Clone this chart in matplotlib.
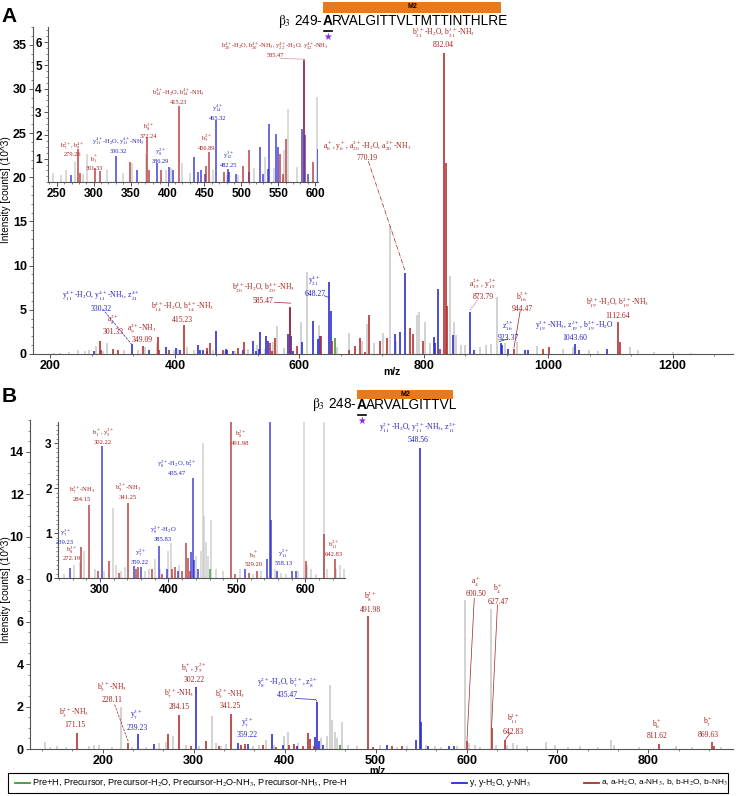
import numpy as np
import matplotlib.pyplot as plt
from matplotlib.ticker import MultipleLocator
from matplotlib.patches import Rectangle
from matplotlib.lines import Line2D

plt.rcParams['mathtext.fontset'] = 'stix'

W, H = 736, 796

def fx(x):
    return x / W

def fy(y):
    return 1 - y / H

def box(l, t, r, b):
    return [fx(l), fy(b), (r - l) / W, (b - t) / H]

# ---------------- panel A peaks (m/z, intensity x10^3) ----------------
a_gray_mz = [205, 215, 230, 245, 255, 262, 274, 285, 291.5, 318, 340, 351.6, 371, 398, 405,
             420, 430, 462, 480, 496, 517, 532, 545, 558.5, 564, 576, 602, 613, 632, 660,
             680, 700, 708, 720, 735, 746, 756, 789, 792, 802, 810, 842, 848, 852, 860, 866,
             890, 900, 908, 917.5, 930, 950, 982, 1024, 1040, 1065, 1080, 1132, 1145, 1170,
             1200, 1230]
a_gray_int = [0.1, 0.15, 0.2, 0.4, 0.3, 0.5, 0.86, 0.35, 1.2, 0.5, 0.4, 0.8, 1.2, 0.5, 0.6,
              0.8, 0.4, 0.5, 0.3, 0.3, 0.6, 1.06, 0.6, 1.36, 3.14, 0.64, 3.64, 9.3, 3.3, 0.8,
              2.4, 1.5, 3.35, 1.2, 2.4, 14.5, 1.5, 4.4, 4.8, 3.6, 1.2, 8.8, 3.6, 2.1, 1.0, 1.0,
              0.8, 1.0, 1.1, 6.4, 1.2, 1.35, 0.95, 0.6, 0.8, 0.4, 0.3, 0.8, 0.4, 0.2,
              0.2, 0.15]

a_blue_mz = [269.4, 330.32, 358.4, 386.29, 402, 408, 436.5, 441, 445, 451, 465.32, 482.25,
             484, 493, 510, 525.5, 530, 536, 537.6, 547, 550, 582.4, 585.47, 587, 590, 604,
             622.5, 630, 634, 648.27, 650.5, 754, 762, 770.19, 816, 818, 822.3, 847, 873.79,
             880, 923.37, 926, 935, 962, 968, 1043.6, 1050, 1095]
a_blue_int = [0.3, 1.1, 0.5, 0.8, 0.64, 0.5, 1.07, 0.45, 0.5, 0.35, 2.64, 0.57,
              0.45, 0.33, 0.45, 1.5, 0.35, 0.57, 2.47, 2.07, 1.5, 2.29, 5.24, 2.0, 0.35, 1.4,
              3.7, 1.7, 2.0, 8.2, 4.9, 2.3, 2.5, 9.2, 1.9, 1.3, 7.4, 2.1, 4.8,
              0.4, 1.3, 1.0, 0.6, 0.4, 0.5, 1.15, 0.4, 0.6]

a_red_mz = [279.26, 281, 301.33, 308, 349.09, 372.24, 375, 391, 415.23, 451.8, 456.89, 476.7,
            502, 511, 552.6, 556.6, 560.7, 585.47, 597, 635, 652, 680, 690, 698, 706, 712.7,
            730, 740.6, 778, 783, 798, 826, 832.04, 836.5, 838, 944.47, 992, 1002, 1112.64,
            1115]
a_red_int = [1.43, 0.4, 0.6, 0.47, 0.85, 1.93, 0.5, 0.5, 3.24, 0.67, 1.29, 0.43,
             0.7, 1.39, 1.21, 0.35, 1.86, 5.27, 0.86, 2.0, 1.5, 0.5, 0.9, 1.8, 0.2, 4.4,
             1.5, 1.8, 2.9, 2.3, 1.46, 0.6, 34.1, 21.6, 5.4, 0.6, 0.6, 0.77, 3.65,
             1.35]

a_green_mz = [657.5]
a_green_int = [1.8]

# labels: (m/z, intensity, ion names, m/z text, colour key)
a_main_labels = [
    (281, 6.0, r"y$_{11}^{4+}$-H$_2$O, y$_{11}^{4+}$-NH$_3$, z$_{21}^{4+}$", "330.32", 'b'),
    (301, 3.3, r"a$_8^{2+}$", "301.33", 'r'),
    (347, 2.4, r"a$_9^{2+}$-NH$_3$", "349.09", 'r'),
    (412, 4.75, r"b$_{14}^{4+}$-H$_2$O, b$_{14}^{4+}$-NH$_3$", "415.23", 'r'),
    (542, 6.9, r"b$_{20}^{4+}$-H$_2$O, b$_{20}^{4+}$-NH$_3$", "585.47", 'r'),
    (625, 7.7, r"y$_{21}^{4+}$", "648.27", 'b'),
    (709, 23.1, r"a$_6^+$, y$_6^+$, a$_{20}^{2+}$-H$_2$O, a$_{20}^{2+}$-NH$_3$", "770.19", 'r'),
    (831, 35.8, r"b$_{21}^{3+}$-H$_2$O, b$_{21}^{3+}$-NH$_3$", "832.04", 'r'),
    (895, 7.4, r"a$_{15}^{2+}$, y$_{15}^{2+}$", "873.79", 'r'),
    (958, 6.0, r"b$_{16}^{2+}$", "944.47", 'r'),
    (936, 2.7, r"z$_{16}^{2+}$", "923.37", 'b'),
    (1043, 2.7, r"y$_{19}^{2+}$-NH$_3$, z$_{19}^{2+}$, b$_{19}^{2+}$-H$_2$O", "1043.60", 'b'),
    (1112, 5.2, r"b$_{19}^{2+}$-H$_2$O, b$_{19}^{2+}$-NH$_3$", "1112.64", 'r'),
]
a_inset_labels = [
    (271, 1.42, r"b$_7^{2+}$, b$_9^{4+}$", "279.26", 'r'),
    (301, 0.85, r"b$_1^+$", "301.33", 'r'),
    (334, 1.6, r"y$_{11}^{4+}$-H$_2$O, y$_{11}^{4+}$-NH$_3$", "330.32", 'b'),
    (374, 2.23, r"b$_8^{3+}$", "372.24", 'r'),
    (390, 1.16, r"y$_8^{2+}$", "386.29", 'b'),
    (415, 3.69, r"b$_{14}^{4+}$-H$_2$O, b$_{14}^{4+}$-NH$_3$", "415.23", 'r'),
    (468, 3.0, r"y$_{14}^{4+}$", "465.32", 'b'),
    (453, 1.72, r"b$_5^{2+}$", "456.89", 'r'),
    (483, 0.99, r"y$_{12}^{3+}$", "482.25", 'b'),
    (546, 5.7, r"b$_{20}^{4+}$-H$_2$O, b$_{20}^{4+}$-NH$_3$, y$_{22}^{4+}$-H$_2$O, y$_{22}^{4+}$-NH$_3$", "585.47", 'r'),
]

# ---------------- panel B peaks ----------------
b_gray_mz = [136, 142, 150, 160, 185, 190, 196, 210, 220.6, 232, 248, 262, 270, 277, 292, 306,
             319.6, 324, 330, 336, 365, 372, 380, 388, 399, 404, 415, 440, 447, 450, 452, 455,
             458, 462.6, 470, 480, 505, 523, 535, 555, 565, 572, 590, 598, 603, 609, 615, 627,
             632, 645, 651, 656, 667, 687, 697, 712, 725, 745, 759, 762, 790, 830, 848, 880]
b_gray_int = [0.34, 0.1, 0.15, 0.1, 0.15, 0.2, 0.2, 0.1, 2.0, 0.1, 0.1, 0.3, 0.35, 0.6, 0.2, 0.15,
              1.55, 0.3, 0.15, 0.25, 0.15, 0.2, 0.42, 0.2, 0.6, 0.78, 0.3, 0.5, 0.6, 3.0, 1.37, 0.8,
              0.5, 1.28, 0.2, 0.15, 0.2, 0.1, 0.15, 0.2, 0.12, 0.1, 0.15, 7.0, 0.3, 0.2, 0.1, 6.6,
              0.2, 0.2, 0.3, 0.2, 0.15, 0.34, 0.2, 0.1, 0.12, 0.1, 0.42, 0.2, 0.1, 0.12, 0.1, 0.1]

b_blue_mz = [239.23, 256, 302.22, 348.9, 359.22, 385.83, 398, 414, 433, 435.47, 437.5, 442.5,
             512, 544, 548.56, 549.5, 558.13, 581, 586]
b_blue_int = [0.7, 0.22, 2.93, 0.27, 0.25, 0.72, 0.2, 0.15, 0.57, 2.22, 0.4, 0.19,
              0.2, 0.42, 14.2, 1.28, 0.16, 0.15, 0.15]

b_red_mz = [171.15, 228.11, 272.19, 284.15, 297, 313, 328, 341.25, 352, 356, 376, 391, 405,
            410, 420, 426, 428, 432, 491.98, 497, 518, 529.2, 600.5, 627.47, 642.83, 811.62,
            869.63, 872]
b_red_int = [0.77, 0.3, 0.7, 1.62, 0.15, 0.37, 0.12, 1.67, 0.2, 0.25, 0.2, 0.1, 0.2,
             0.25, 0.15, 0.77, 0.45, 0.15, 6.28, 0.1, 0.12, 0.15, 0.37, 0.97, 0.42, 0.23,
             0.34, 0.15]

b_green_mz = [461]
b_green_int = [0.2]

b_main_labels = [
    (169, 1.5, r"b$_3^{2+}$-NH$_3$", "171.15", 'r'),
    (210, 2.7, r"b$_5^{3+}$-NH$_3$", "228.11", 'r'),
    (237.5, 1.37, r"y$_7^{3+}$", "239.23", 'b'),
    (283.7, 2.36, r"b$_7^{3+}$-NH$_3$", "284.15", 'r'),
    (300, 3.63, r"b$_1^+$, y$_5^{2+}$", "302.22", 'r'),
    (339.8, 2.4, r"b$_5^{2+}$-NH$_3$", "341.25", 'r'),
    (358.5, 1.0, r"y$_7^{2+}$", "359.22", 'b'),
    (403.6, 2.88, r"y$_8^{2+}$-H$_2$O, b$_7^{2+}$, z$_8^{2+}$", "435.47", 'b'),
    (493.8, 6.93, r"b$_8^{2+}$", "491.98", 'r'),
    (546.6, 14.9, r"y$_{11}^{2+}$-H$_2$O, y$_{11}^{2+}$-NH$_3$, z$_{11}^{2+}$", "548.56", 'b'),
    (610.4, 7.64, r"a$_4^+$", "600.50", 'r'),
    (634.6, 7.3, r"b$_4^+$", "627.47", 'r'),
    (651, 1.18, r"b$_{11}^{2+}$", "642.83", 'r'),
    (809.5, 1.0, r"b$_6^+$", "811.62", 'r'),
    (865.6, 1.04, r"b$_7^+$", "869.63", 'r'),
]
b_inset_labels = [
    (249, 0.93, r"y$_7^{3+}$", "239.23", 'b'),
    (259, 0.56, r"b$_8^{3+}$", "272.19", 'r'),
    (273.6, 1.89, r"b$_7^{3+}$-NH$_3$", "284.15", 'r'),
    (304.4, 3.16, r"b$_1^+$, y$_5^{2+}$", "302.22", 'r'),
    (341, 1.93, r"b$_5^{2+}$-NH$_3$", "341.25", 'r'),
    (412.7, 2.47, r"y$_8^{2+}$-H$_2$O, b$_7^{2+}$", "435.47", 'b'),
    (392, 1.0, r"y$_8^{2+}$-H$_2$O", "385.83", 'b'),
    (358.6, 0.49, r"y$_7^{2+}$", "359.22", 'b'),
    (505, 3.13, r"b$_8^{2+}$", "491.98", 'r'),
    (524, 0.44, r"b$_5^+$", "529.20", 'r'),
    (568, 0.47, r"y$_{11}^{2+}$", "558.13", 'b'),
    (641, 0.67, r"b$_{11}^{2+}$", "642.83", 'r'),
]

GRAY = '#c9c9c9'
BLUE = '#2a2ad0'
RED = '#b22c2c'
GREEN = '#3c963c'
TXT = {'r': '#a3201e', 'b': '#2020c0'}
TICKFONT = dict(family='Liberation Sans', weight='bold')


def style(ax, xmaj, xmin, ymaj, ymin, fs):
    for s in ['top', 'right']:
        ax.spines[s].set_visible(False)
    for s in ['left', 'bottom']:
        ax.spines[s].set_color('#555555')
        ax.spines[s].set_linewidth(0.8)
    ax.xaxis.set_major_locator(MultipleLocator(xmaj))
    ax.xaxis.set_minor_locator(MultipleLocator(xmin))
    ax.yaxis.set_major_locator(MultipleLocator(ymaj))
    ax.yaxis.set_minor_locator(MultipleLocator(ymin))
    ax.tick_params(which='major', length=3, width=0.7, color='#555555', pad=1.5)
    ax.tick_params(which='minor', length=1.5, width=0.5, color='#555555')
    for lab in ax.get_xticklabels() + ax.get_yticklabels():
        lab.set_fontfamily('Liberation Sans')
        lab.set_fontweight('bold')
        lab.set_fontsize(fs)


def plot_set(ax, sets, lw, alpha):
    for mz, it, col in sets:
        ax.vlines(mz, 0, it, colors=col, lw=lw, alpha=alpha)


def put_labels(ax, labels, fs):
    for x, y, name, val, c in labels:
        ax.text(x, y, name + "\n" + val, ha='center', va='center', fontsize=fs,
                family='Liberation Serif', color=TXT[c], linespacing=1.2, zorder=5)


fig = plt.figure(figsize=(7.36, 7.96), dpi=100)

a_sets = [(a_gray_mz, a_gray_int, GRAY), (a_green_mz, a_green_int, GREEN),
          (a_blue_mz, a_blue_int, BLUE), (a_red_mz, a_red_int, RED)]
b_sets = [(b_gray_mz, b_gray_int, GRAY), (b_green_mz, b_green_int, GREEN),
          (b_blue_mz, b_blue_int, BLUE), (b_red_mz, b_red_int, RED)]

# ---- A main ----
axA = fig.add_axes(box(33, 27, 733, 354))
plot_set(axA, a_sets, 1.3, 0.9)
axA.set_xlim(172, 1297)
axA.set_ylim(0, 37)
style(axA, 200, 200 / 3, 5, 1, 9)
put_labels(axA, a_main_labels, 5.5)
# leader lines
axA.plot([284, 330.32], [5.1, 1.1], ls='--', lw=0.5, color=TXT['b'])
axA.plot([560, 586], [5.85, 5.75], lw=0.5, color=TXT['r'])
axA.plot([640, 647], [6.6, 6.4], lw=0.5, color=TXT['b'])
axA.plot([711, 770], [21.8, 9.4], ls='-.', lw=0.5, color=TXT['r'])
axA.plot([888, 874], [6.3, 4.9], ls=':', lw=0.6, color=TXT['r'])
axA.plot([955, 945], [4.9, 0.7], lw=0.5, color=TXT['r'])
axA.plot([921, 935], [1.4, 1.7], lw=0.5, color=TXT['b'])

# ---- A inset ----
axAi = fig.add_axes(box(48, 27, 318, 182))
axAi.set_facecolor('white')
plot_set(axAi, a_sets, 1.3, 0.75)
axAi.set_xlim(238, 604)
axAi.set_ylim(0, 6.65)
style(axAi, 50, 10, 1, 0.25, 8.5)
axAi.set_yticks([1, 2, 3, 4, 5, 6])
for lab in axAi.get_yticklabels():
    lab.set_fontfamily('Liberation Sans'); lab.set_fontweight('bold'); lab.set_fontsize(8.5)
put_labels(axAi, a_inset_labels, 4.6)
axAi.plot([553, 584, 585.47], [5.3, 5.27, 5.2], lw=0.5, color='#cc9999')

# ---- B main ----
axB = fig.add_axes(box(30, 420, 733, 749))
plot_set(axB, b_sets, 1.3, 0.9)
axB.set_xlim(120, 893)
axB.set_ylim(0, 15.5)
style(axB, 100, 100 / 3, 2, 0.5, 9)
axB.tick_params(axis='x', which='major', pad=1)
put_labels(axB, b_main_labels, 5.5)
axB.plot([213, 228.11], [2.1, 0.35], ls='--', lw=0.5, color=TXT['r'])
axB.plot([412, 434, 435.47], [2.38, 2.33, 2.25], lw=0.5, color=TXT['b'])
axB.plot([608.5, 600.5], [7.1, 0.4], lw=0.5, color=TXT['r'])
axB.plot([634, 627.5], [6.8, 1.0], lw=0.5, color=TXT['r'])
axB.plot([648, 643], [0.75, 0.45], lw=0.5, color=TXT['r'])

# ---- B inset ----
axBi = fig.add_axes(box(58, 422, 345, 578))
axBi.set_facecolor('white')
plot_set(axBi, b_sets, 1.3, 0.75)
axBi.set_xlim(238.5, 658)
axBi.set_ylim(0, 3.47)
style(axBi, 100, 20, 1, 0.1, 8.5)
put_labels(axBi, b_inset_labels, 4.8)

# ---- axis titles ----
for yc in (190, 590):
    fig.text(fx(6), fy(yc), "Intensity [counts] (10^3)", rotation=90, ha='center', va='center',
             fontsize=7.2, family='Liberation Sans')
fig.text(fx(392), fy(372), "m/z", ha='center', va='center', fontsize=7.5, **TICKFONT)
fig.text(fx(378), fy(771), "m/z", ha='center', va='center', fontsize=7, **TICKFONT)

fig.text(fx(9), fy(16), "A", ha='center', va='center', fontsize=15, **TICKFONT)
fig.text(fx(9), fy(397), "B", ha='center', va='center', fontsize=15, **TICKFONT)

# ---- peptide headers ----
ORANGE = '#e57a1e'
TFONT = 'Liberation Sans'
TSIZE = 9.8


def header(xa, yt, rest, prefix, bar_l, bar_r, bar_t, bar_b):
    fig.patches.append(Rectangle((fx(bar_l), fy(bar_b)), (bar_r - bar_l) / W, (bar_b - bar_t) / H,
                                 transform=fig.transFigure, facecolor=ORANGE, edgecolor='none'))
    fig.text(fx((bar_l + bar_r) / 2), fy((bar_t + bar_b) / 2), "M2", ha='center', va='center',
             fontsize=5, fontweight='bold', family='Liberation Sans')
    fig.text(fx(xa - 0.5), fy(yt), prefix, ha='right', va='center', fontsize=TSIZE, family=TFONT)
    fig.text(fx(xa), fy(yt), "A", ha='left', va='center', fontsize=TSIZE, family=TFONT,
             fontweight='bold')
    fig.text(fx(xa + 9), fy(yt), rest, ha='left', va='center', fontsize=TSIZE, family=TFONT)
    fig.lines.append(Line2D([fx(xa + 0.5), fx(xa + 9)], [fy(yt + 9.5), fy(yt + 9.5)],
                            transform=fig.transFigure, color='black', lw=1.2))
    fig.text(fx(xa + 5), fy(yt + 16), "\u2605", ha='center', va='center', fontsize=7,
             color='#8a2be2', family='DejaVu Sans')


header(323, 21, "RVALGITTVLTMTTINTHLRE", r"$\mathrm{\beta}_3$ 249-", 323, 501, 1.5, 12.5)
header(357, 405, "ARVALGITTVL", r"$\mathrm{\beta}_3$ 248-", 357, 453, 390.5, 398.5)

# ---- legend box ----
fig.patches.append(Rectangle((fx(8), fy(793)), 720 / W, 20 / H, transform=fig.transFigure,
                             facecolor='white', edgecolor='black', lw=0.8))
leg = [(15, GREEN, 6.6, "Pre+H, Precursor, Precursor-H$_2$O, Precursor-H$_2$O-NH$_3$, Precursor-NH$_3$, Pre-H"),
       (452, BLUE, 6.2, "y, y-H$_2$O, y-NH$_3$"),
       (584, RED, 6.0, "a, a-H$_2$O, a-NH$_3$, b, b-H$_2$O, b-NH$_3$")]
for x0, col, fs, txt in leg:
    fig.lines.append(Line2D([fx(x0), fx(x0 + 15)], [fy(783), fy(783)], transform=fig.transFigure,
                            color=col, lw=1.3))
    fig.text(fx(x0 + 17), fy(783), txt, ha='left', va='center', fontsize=fs,
             family='Liberation Sans')

fig.savefig('out.png', dpi=100)
